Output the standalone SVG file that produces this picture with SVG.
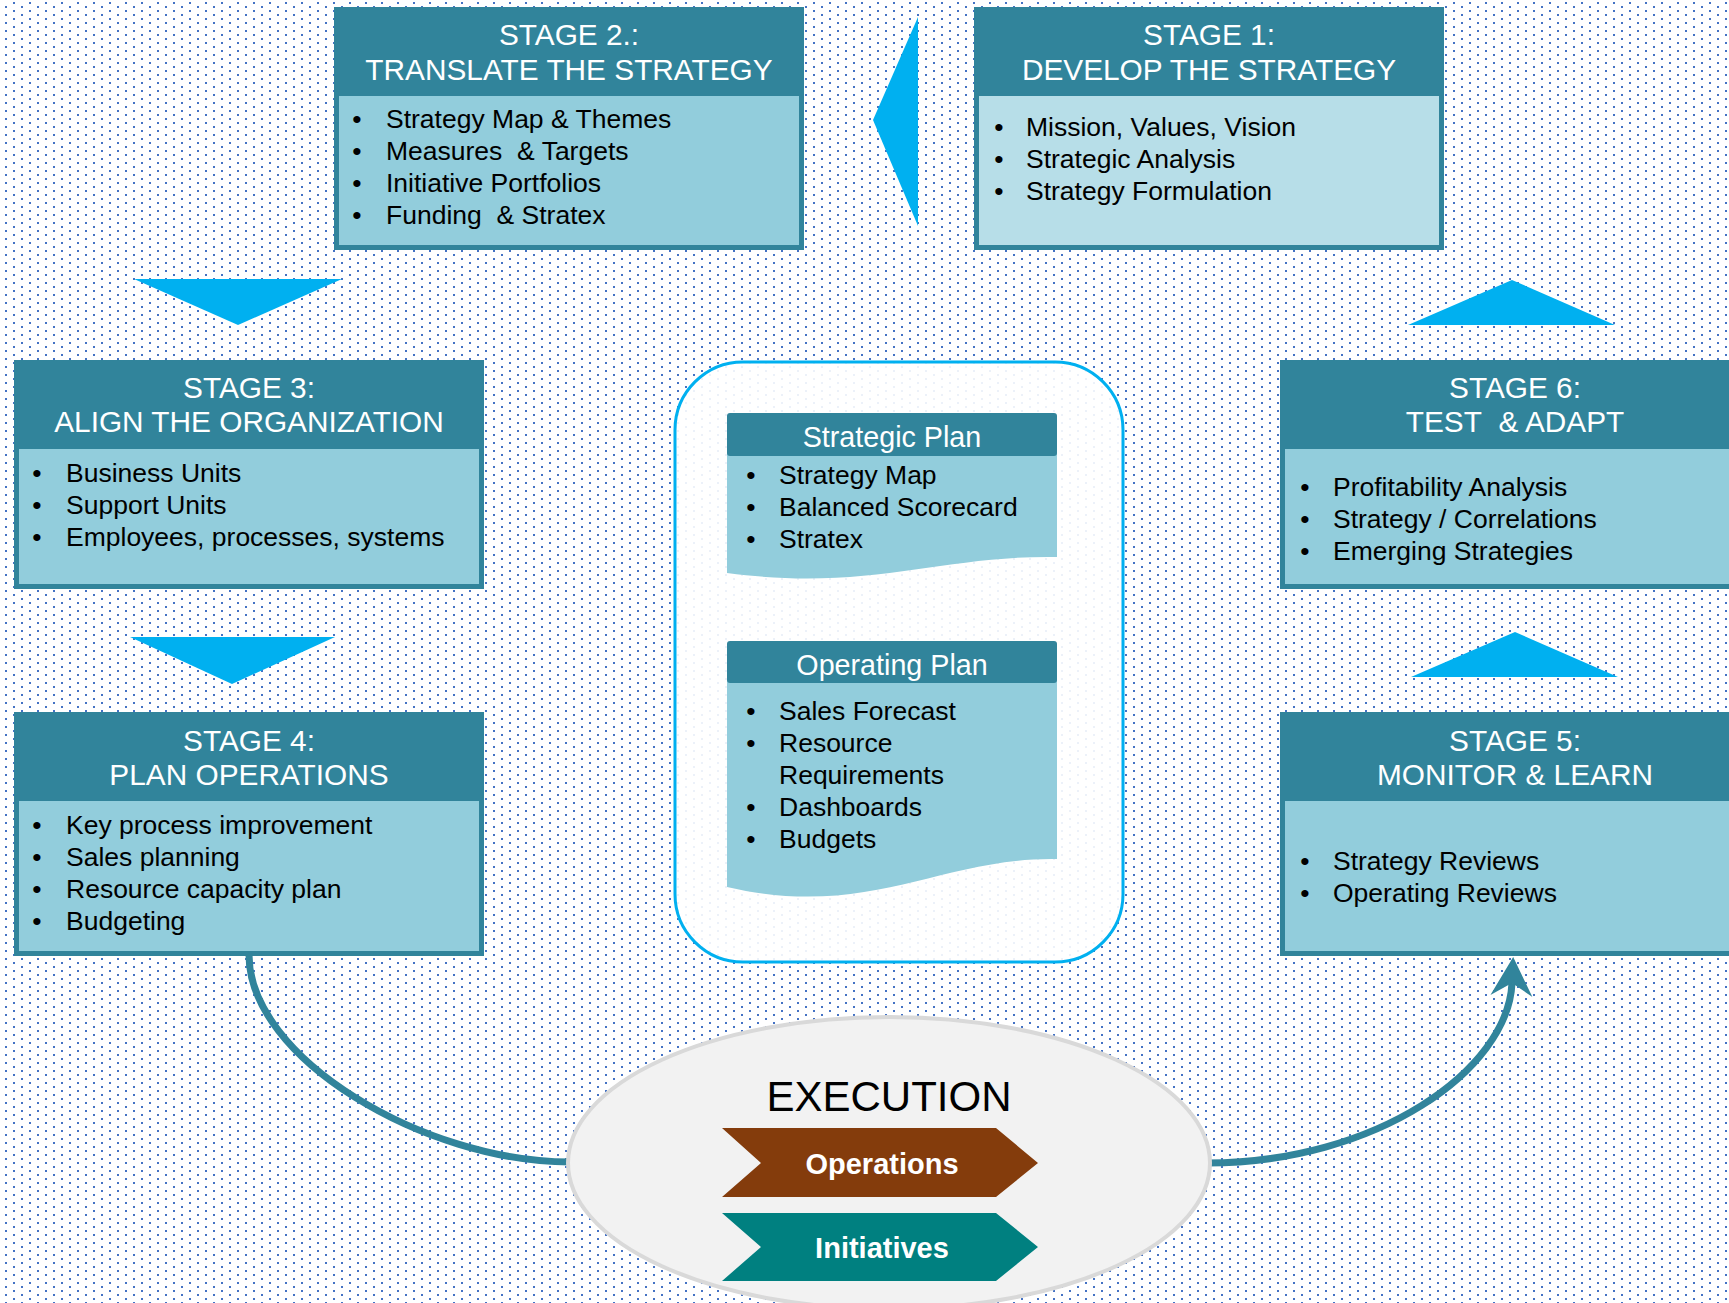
<svg xmlns="http://www.w3.org/2000/svg" width="1729" height="1303" viewBox="0 0 1729 1303">
<style>
.hdr{fill:#31849B}
.body{fill:#92CDDC}
.body1{fill:#B7DEE8}
text{white-space:pre}
.ht{font-family:"Liberation Sans",Arial,sans-serif;font-size:29.8px;fill:#FFFFFF;text-anchor:middle}
.dt{font-family:"Liberation Sans",Arial,sans-serif;font-size:28.7px;fill:#FFFFFF;text-anchor:middle}
.bt{font-family:"Liberation Sans",Arial,sans-serif;font-size:26.5px;fill:#000000}
.bl{font-family:"Liberation Sans",Arial,sans-serif;font-size:26.5px;fill:#000000;text-anchor:middle}
.tri{fill:#00B0F0}
.conn{fill:none;stroke:#31849B;stroke-width:7}
.chv{font-family:"Liberation Sans",Arial,sans-serif;font-size:29px;font-weight:bold;fill:#FFFFFF;text-anchor:middle}
</style>
<defs>
<pattern id="dots" x="0" y="0" width="16" height="8" patternUnits="userSpaceOnUse">
<rect x="5" y="6" width="2" height="2" fill="#4472C4"/>
<rect x="13" y="2" width="2" height="2" fill="#4472C4"/>
</pattern>
<marker id="stealth" markerUnits="userSpaceOnUse" viewBox="-42 -23 44 46" markerWidth="44" markerHeight="46" refX="-26" refY="0" orient="auto">
<path d="M0,0 L-39,-21 L-26,0 L-39,21 Z" fill="#31849B"/>
</marker>
</defs>
<rect x="0" y="0" width="1729" height="1303" fill="#FFFFFF"/>
<rect x="0" y="0" width="1729" height="1303" fill="url(#dots)"/>

<g id="connectors">
<polygon class="tri" points="918,17 873,120 918,226"/>
<polygon class="tri" points="134,279 342,279 238,325"/>
<polygon class="tri" points="130,637 335,637 232,684"/>
<polygon class="tri" points="1408,325 1615,325 1512,280"/>
<polygon class="tri" points="1411,677 1618,677 1515,632"/>
<path class="conn" d="M249,955 C249,1058 424,1162 570,1162"/>
<path class="conn" d="M1207,1163 C1376,1163 1508,1070 1512,983" marker-end="url(#stealth)"/>
</g>

<g id="stage2">
<rect class="hdr" x="334" y="7" width="470" height="243"/>
<rect class="body" x="339" y="96" width="460" height="149"/>
<text class="ht" x="569" y="45">STAGE 2.:</text>
<text class="ht" x="569" y="80">TRANSLATE THE STRATEGY</text>
<text class="bl" x="357" y="128">•</text><text class="bt" x="386" y="128">Strategy Map &amp; Themes</text>
<text class="bl" x="357" y="160">•</text><text class="bt" x="386" y="160">Measures&#160; &amp; Targets</text>
<text class="bl" x="357" y="192">•</text><text class="bt" x="386" y="192">Initiative Portfolios</text>
<text class="bl" x="357" y="224">•</text><text class="bt" x="386" y="224">Funding&#160; &amp; Stratex</text>
</g>

<g id="stage1">
<rect class="hdr" x="974" y="7" width="470" height="243"/>
<rect class="body1" x="979" y="96" width="460" height="149"/>
<text class="ht" x="1209" y="45">STAGE 1:</text>
<text class="ht" x="1209" y="80">DEVELOP THE STRATEGY</text>
<text class="bl" x="999" y="136">•</text><text class="bt" x="1026" y="136">Mission, Values, Vision</text>
<text class="bl" x="999" y="168">•</text><text class="bt" x="1026" y="168">Strategic Analysis</text>
<text class="bl" x="999" y="200">•</text><text class="bt" x="1026" y="200">Strategy Formulation</text>
</g>

<g id="stage3">
<rect class="hdr" x="14" y="360" width="470" height="229"/>
<rect class="body" x="19" y="449" width="460" height="135"/>
<text class="ht" x="249" y="398">STAGE 3:</text>
<text class="ht" x="249" y="432">ALIGN THE ORGANIZATION</text>
<text class="bl" x="37" y="482">•</text><text class="bt" x="66" y="482">Business Units</text>
<text class="bl" x="37" y="514">•</text><text class="bt" x="66" y="514">Support Units</text>
<text class="bl" x="37" y="546">•</text><text class="bt" x="66" y="546">Employees, processes, systems</text>
</g>

<g id="stage4">
<rect class="hdr" x="14" y="712" width="470" height="244"/>
<rect class="body" x="19" y="801" width="460" height="150"/>
<text class="ht" x="249" y="751">STAGE 4:</text>
<text class="ht" x="249" y="785">PLAN OPERATIONS</text>
<text class="bl" x="37" y="834">•</text><text class="bt" x="66" y="834">Key process improvement</text>
<text class="bl" x="37" y="866">•</text><text class="bt" x="66" y="866">Sales planning</text>
<text class="bl" x="37" y="898">•</text><text class="bt" x="66" y="898">Resource capacity plan</text>
<text class="bl" x="37" y="930">•</text><text class="bt" x="66" y="930">Budgeting</text>
</g>

<g id="stage6">
<rect class="hdr" x="1280" y="360" width="470" height="229"/>
<rect class="body" x="1285" y="449" width="460" height="135"/>
<text class="ht" x="1515" y="398">STAGE 6:</text>
<text class="ht" x="1515" y="432">TEST&#160; &amp; ADAPT</text>
<text class="bl" x="1305" y="496">•</text><text class="bt" x="1333" y="496">Profitability Analysis</text>
<text class="bl" x="1305" y="528">•</text><text class="bt" x="1333" y="528">Strategy / Correlations</text>
<text class="bl" x="1305" y="560">•</text><text class="bt" x="1333" y="560">Emerging Strategies</text>
</g>

<g id="stage5">
<rect class="hdr" x="1280" y="712" width="470" height="244"/>
<rect class="body" x="1285" y="801" width="460" height="150"/>
<text class="ht" x="1515" y="751">STAGE 5:</text>
<text class="ht" x="1515" y="785">MONITOR &amp; LEARN</text>
<text class="bl" x="1305" y="870">•</text><text class="bt" x="1333" y="870">Strategy Reviews</text>
<text class="bl" x="1305" y="902">•</text><text class="bt" x="1333" y="902">Operating Reviews</text>
</g>

<g id="plans">
<rect x="675" y="362" width="448" height="600" rx="68" ry="68" fill="#FFFFFF" fill-opacity="0.9" stroke="#00B0F0" stroke-width="3"/>
</g>

<g id="strategic-plan">
<path class="body" d="M727,450 L1057,450 L1057,557 C940,555 870,592 727,573 Z"/>
<rect class="hdr" x="727" y="413" width="330" height="43" rx="3" ry="3"/>
<text class="dt" x="892" y="447">Strategic Plan</text>
<text class="bl" x="751" y="484">•</text><text class="bt" x="779" y="484">Strategy Map</text>
<text class="bl" x="751" y="516">•</text><text class="bt" x="779" y="516">Balanced Scorecard</text>
<text class="bl" x="751" y="548">•</text><text class="bt" x="779" y="548">Stratex</text>
</g>

<g id="operating-plan">
<path class="body" d="M727,678 L1057,678 L1057,859 C940,857 870,920 727,887 Z"/>
<rect class="hdr" x="727" y="641" width="330" height="42" rx="3" ry="3"/>
<text class="dt" x="892" y="675">Operating Plan</text>
<text class="bl" x="751" y="720">•</text><text class="bt" x="779" y="720">Sales Forecast</text>
<text class="bl" x="751" y="752">•</text><text class="bt" x="779" y="752">Resource</text>
<text class="bt" x="779" y="784">Requirements</text>
<text class="bl" x="751" y="816">•</text><text class="bt" x="779" y="816">Dashboards</text>
<text class="bl" x="751" y="848">•</text><text class="bt" x="779" y="848">Budgets</text>
</g>

<g id="execution">
<ellipse cx="889" cy="1163" rx="321" ry="146" fill="#F2F2F2" stroke="#D9D9D9" stroke-width="4"/>
<text x="889" y="1111" font-family="Liberation Sans, Arial, sans-serif" font-size="42" fill="#000000" text-anchor="middle">EXECUTION</text>
</g>

<g id="operations">
<polygon points="722,1128 996,1128 1038,1163 996,1197 722,1197 761,1163" fill="#843C0C"/>
<text class="chv" x="882" y="1174">Operations</text>
</g>

<g id="initiatives">
<polygon points="722,1213 996,1213 1038,1247 996,1281 722,1281 761,1247" fill="#008080"/>
<text class="chv" x="882" y="1258">Initiatives</text>
</g>
</svg>
